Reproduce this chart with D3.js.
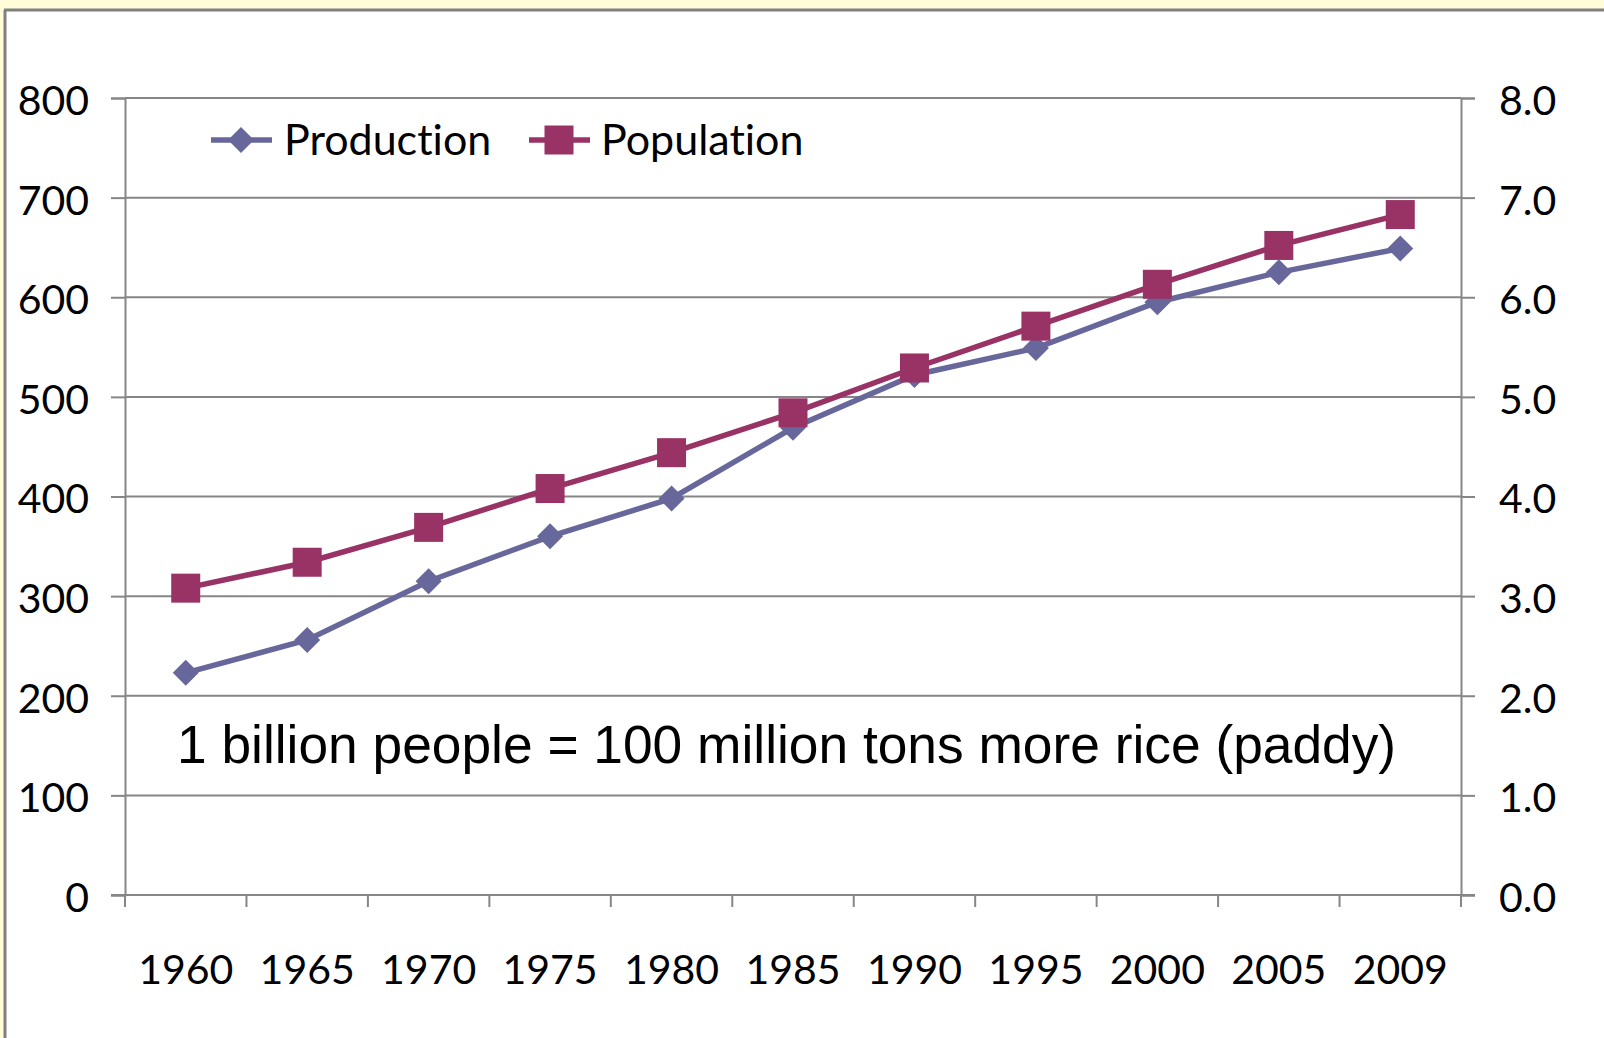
<!DOCTYPE html>
<html><head><meta charset="utf-8">
<script src="https://cdn.jsdelivr.net/npm/d3@7"></script>
<style>
html,body{margin:0;padding:0;background:#fff;}
svg{display:block;}
text{font-variant-ligatures:none;font-feature-settings:"liga" 0;}
</style></head>
<body>
<svg id="c" width="1604" height="1038"></svg>
<script>
const years = ["1960","1965","1970","1975","1980","1985","1990","1995","2000","2005","2009"];
const production = [223, 256, 315, 360, 398, 469, 522, 549, 595, 625, 649];
const population = [3.08, 3.34, 3.69, 4.08, 4.44, 4.84, 5.29, 5.71, 6.13, 6.52, 6.83];
const leftTicks = [0,100,200,300,400,500,600,700,800];
const rightTicks = [0,1,2,3,4,5,6,7,8];
const seriesNames = ["Production","Population"];
const note = "1 billion people = 100 million tons more rice (paddy)";

const svg = d3.select("#c");
const W = 1604, H = 1038;
const L = 125, R = 1461, T = 98, B = 895;
const prodColor = "#67679B", popColor = "#993366";
const font = "Lato, 'Open Sans', sans-serif";

// background frame
svg.append("rect").attr("x",0).attr("y",0).attr("width",W).attr("height",H).attr("fill","#FFFDD8");
svg.append("rect").attr("x",6).attr("y",11).attr("width",W-6).attr("height",H-11).attr("fill","#fff");
svg.append("line").attr("x1",4).attr("x2",W).attr("y1",10).attr("y2",10).attr("stroke","#808080").attr("stroke-width",3);
svg.append("line").attr("x1",5).attr("x2",5).attr("y1",10).attr("y2",H).attr("stroke","#808080").attr("stroke-width",3);

const x = d3.scaleBand().domain(years).range([L,R]);
const yL = d3.scaleLinear().domain([0,800]).range([B,T]);
const yR = d3.scaleLinear().domain([0,8]).range([B,T]);

// gridlines
svg.append("g").selectAll("line").data(leftTicks).join("line")
  .attr("x1",L).attr("x2",R).attr("y1",d=>yL(d)).attr("y2",d=>yL(d))
  .attr("stroke","#868686").attr("stroke-width",2);

// left axis
const gl = svg.append("g").attr("transform",`translate(${L},0)`)
  .call(d3.axisLeft(yL).tickValues(leftTicks).tickSize(14).tickPadding(22).tickFormat(d3.format("d")));
// right axis
const gr = svg.append("g").attr("transform",`translate(${R},0)`)
  .call(d3.axisRight(yR).tickValues(rightTicks).tickSize(14).tickPadding(24).tickFormat(d3.format(".1f")));
// bottom axis
const gb = svg.append("g").attr("transform",`translate(0,${B})`)
  .call(d3.axisBottom(x).tickSize(0).tickPadding(60));
// bottom boundary ticks
svg.append("g").selectAll("line").data(d3.range(years.length+1)).join("line")
  .attr("x1",i=>L+i*x.step()).attr("x2",i=>L+i*x.step())
  .attr("y1",B).attr("y2",B+12).attr("stroke","#868686").attr("stroke-width",2);

[gl,gr,gb].forEach(g=>{
  g.select(".domain").attr("stroke","#868686").attr("stroke-width",2);
  g.selectAll(".tick line").attr("stroke","#868686").attr("stroke-width",2);
  g.selectAll("text").attr("font-family",font).attr("font-size",41).attr("fill","#000");
});
gl.selectAll("text").attr("dy","0.4em");
gr.selectAll("text").attr("dy","0.4em");
gb.select(".domain").remove();
svg.append("line").attr("x1",L-14).attr("x2",R+14).attr("y1",B).attr("y2",B).attr("stroke","#868686").attr("stroke-width",2);

// lines
const cx = d=>x(d)+x.bandwidth()/2;
const prodLine = d3.line().x((d,i)=>cx(years[i])).y(d=>yL(d));
const popLine = d3.line().x((d,i)=>cx(years[i])).y(d=>yR(d));
svg.append("path").datum(production).attr("d",prodLine).attr("fill","none").attr("stroke",prodColor).attr("stroke-width",5.5);
svg.append("path").datum(population).attr("d",popLine).attr("fill","none").attr("stroke",popColor).attr("stroke-width",5.5);

const diamond = s => `M0,${-s}L${s},0L0,${s}L${-s},0Z`;
svg.append("g").selectAll("path").data(production).join("path")
  .attr("d",diamond(13)).attr("fill",prodColor)
  .attr("transform",(d,i)=>`translate(${cx(years[i])},${yL(d)})`);
svg.append("g").selectAll("rect").data(population).join("rect")
  .attr("x",(d,i)=>cx(years[i])-14.5).attr("y",d=>yR(d)-14.5).attr("width",29).attr("height",29).attr("fill",popColor);

// legend
const lg = svg.append("g");
const ly = 140;
lg.append("line").attr("x1",211).attr("x2",272).attr("y1",ly).attr("y2",ly).attr("stroke",prodColor).attr("stroke-width",5.5);
lg.append("path").attr("d",diamond(13)).attr("fill",prodColor).attr("transform",`translate(241,${ly})`);
lg.append("text").attr("x",284).attr("y",ly).attr("dy","0.36em").text(seriesNames[0]);
lg.append("line").attr("x1",529).attr("x2",590).attr("y1",ly).attr("y2",ly).attr("stroke",popColor).attr("stroke-width",5.5);
lg.append("rect").attr("x",544.5).attr("y",ly-14.5).attr("width",29).attr("height",29).attr("fill",popColor);
lg.append("text").attr("x",601).attr("y",ly).attr("dy","0.36em").text(seriesNames[1]);
lg.selectAll("text").attr("font-family",font).attr("font-size",43).attr("fill","#000");

// annotation
svg.append("text").attr("x",177).attr("y",763).text(note)
  .attr("font-family","'Liberation Sans', Arial, sans-serif").attr("font-size",53.3).attr("fill","#000");
</script>
</body></html>
